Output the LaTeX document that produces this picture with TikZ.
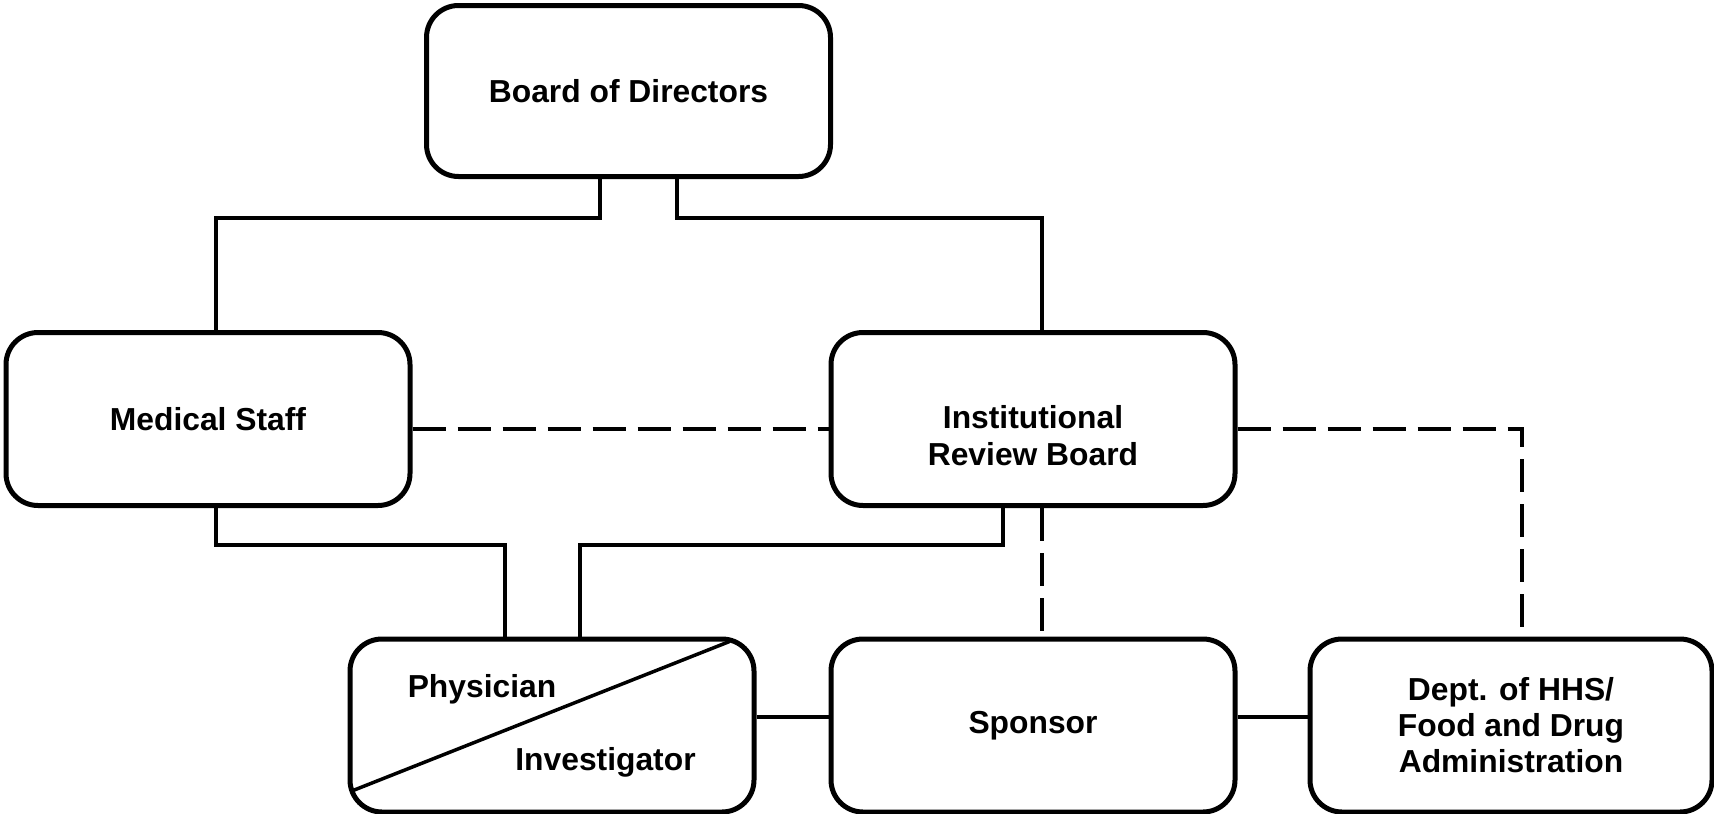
\documentclass[tikz,border=0pt]{standalone}
\usepackage{fontspec}
\setmainfont{Liberation Sans}
\begin{document}
\begin{tikzpicture}[x=1pt,y=-1pt,
  orgbox/.style={draw, line width=5pt, rounded corners=32pt, minimum width=404pt,
    minimum height=173pt, inner sep=0pt, align=center,
    font=\fontsize{31.8}{36}\selectfont\bfseries},
  lbl/.style={inner sep=0pt, align=center, font=\fontsize{31.8}{37}\selectfont\bfseries},
  conn/.style={line width=3.5pt},
  dconn/.style={line width=4pt, dash pattern=on 33pt off 12pt}]
\useasboundingbox (0,0) rectangle (1714,814);

% boxes
\node[orgbox, minimum height=171pt] (board) at (628.5,91) {Board of Directors};
\node[orgbox] (med) at (208,419) {Medical Staff};
\node[orgbox] (irb) at (1033,419) {};
\node[lbl] (irblbl) at (1033,435.5) {Institutional\\Review Board};
\node[orgbox] (phys) at (552,725.5) {};
\node[orgbox] (spon) at (1033,725.5) {Sponsor};
\node[orgbox, minimum width=402pt] (hhs) at (1511,725.5) {Dept. of HHS/\\Food and Drug\\Administration};

% split physician / investigator box
\draw[conn] ([xshift=-27pt,yshift=-5pt]phys.north east) -- ([xshift=3pt,yshift=23pt]phys.south west);
\node[lbl] (physlbl) at (482,689) {Physician};
\node[lbl] (invlbl) at (605.5,762) {Investigator};

% solid reporting lines
\draw[conn] ([xshift=-28.5pt]board.south) -- ++(0,39) -| ([xshift=8pt]med.north);
\draw[conn] ([xshift=48.5pt]board.south) -- ++(0,39) -| ([xshift=9pt]irb.north);
\draw[conn] ([xshift=8pt]med.south) -- ++(0,37) -| ([xshift=-47pt]phys.north);
\draw[conn] ([xshift=-30pt]irb.south) -- ++(0,37) -| ([xshift=28pt]phys.north);
\draw[conn] ([yshift=8.5pt]phys.east) -- ([yshift=8.5pt]spon.west);
\draw[conn] ([yshift=8.5pt]spon.east) -- ([yshift=8.5pt]hhs.west);

% dashed liaison lines
\draw[dconn] ([yshift=-9.5pt]med.east) -- ([yshift=-9.5pt]irb.west);
\draw[dconn] ([yshift=-9.5pt]irb.east) -| ([xshift=11pt]hhs.north);
\draw[dconn] ([xshift=9pt]irb.south) -- ([xshift=9pt]spon.north);
\end{tikzpicture}
\end{document}
